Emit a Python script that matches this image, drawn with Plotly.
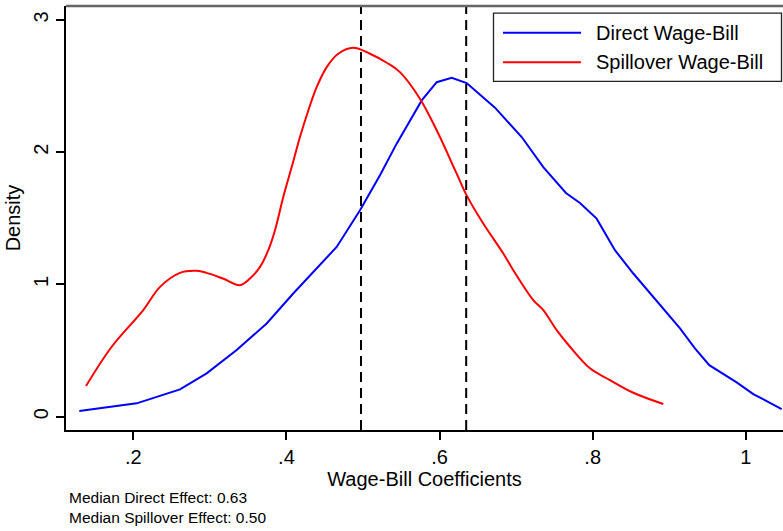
import plotly.graph_objects as go

# Kernel density estimates of the wage-bill coefficients
direct_x = [0.1295, 0.2044, 0.2610, 0.2958, 0.3350, 0.3742, 0.4089, 0.4656, 0.4961,
            0.5222, 0.5440, 0.5614, 0.5767, 0.5963, 0.6159, 0.6354, 0.6724, 0.7073,
            0.7355, 0.7651, 0.7834, 0.8052, 0.8291, 0.8531, 0.8792, 0.8966, 0.9141,
            0.9336, 0.9523, 0.9881, 1.0098, 1.0469]
direct_y = [0.043, 0.101, 0.207, 0.328, 0.504, 0.705, 0.932, 1.284, 1.561,
            1.826, 2.065, 2.241, 2.392, 2.530, 2.563, 2.523, 2.337, 2.115,
            1.888, 1.692, 1.616, 1.498, 1.259, 1.083, 0.906, 0.793, 0.668,
            0.517, 0.390, 0.260, 0.171, 0.058]

spill_x = [0.1382, 0.1718, 0.2130, 0.2349, 0.2610, 0.2828, 0.2958, 0.3170, 0.3393,
           0.3524, 0.3655, 0.3763, 0.3851, 0.3959, 0.4069, 0.4177, 0.4286, 0.4395,
           0.4526, 0.4677, 0.4873, 0.5091, 0.5310, 0.5483, 0.5744, 0.5963, 0.6224,
           0.6354, 0.6571, 0.6833, 0.6963, 0.7224, 0.7355, 0.7530, 0.7704, 0.7965,
           0.8226, 0.8531, 0.8923]
spill_y = [0.232, 0.529, 0.806, 0.982, 1.088, 1.103, 1.088, 1.045, 0.995,
           1.045, 1.133, 1.259, 1.410, 1.662, 1.888, 2.115, 2.316, 2.492,
           2.644, 2.745, 2.790, 2.745, 2.677, 2.606, 2.405, 2.166, 1.838,
           1.674, 1.461, 1.234, 1.108, 0.882, 0.806, 0.655, 0.529, 0.366,
           0.277, 0.181, 0.096]

series_names = ["Direct Wage-Bill", "Spillover Wage-Bill"]
series_colors = ["#0000ff", "#ff0000"]

median_direct = 0.6348
median_spill = 0.4974

x_tickvals = [0.2, 0.4, 0.6, 0.8, 1.0]
x_ticktext = [".2", ".4", ".6", ".8", "1"]
y_tickvals = [0, 1, 2, 3]
y_ticktext = ["0", "1", "2", "3"]

W, H = 783, 531
L, R, T, B = 66, 0, 5.5, 101
plot_w = W - L - R
plot_h = H - T - B


def px_x(p):
    return (p - L) / plot_w


def px_y(p):
    return (H - B - p) / plot_h


FONT = "Liberation Sans, Arial, Helvetica, sans-serif"
FS = 20

fig = go.Figure()
fig.add_trace(go.Scatter(x=direct_x, y=direct_y, mode="lines", name=series_names[0],
                         line=dict(color=series_colors[0], width=2), showlegend=False))
fig.add_trace(go.Scatter(x=spill_x, y=spill_y, mode="lines", name=series_names[1],
                         line=dict(color=series_colors[1], width=2, shape="spline",
                                   smoothing=1.0), showlegend=False))

shapes = []
# Median markers
for m in (median_spill, median_direct):
    shapes.append(dict(type="line", xref="x", yref="paper", x0=m, x1=m, y0=0, y1=1,
                       line=dict(color="black", width=2, dash="10px,6px")))
# Top frame edge of the plot region
shapes.append(dict(type="line", xref="paper", yref="paper", x0=0, x1=1, y0=1, y1=1,
                   line=dict(color="#666666", width=2.5)))

# Legend box
shapes.append(dict(type="rect", xref="paper", yref="paper",
                   x0=px_x(493.5), x1=px_x(781.5), y0=px_y(81), y1=px_y(12.7),
                   line=dict(color="#222222", width=1.3), fillcolor="white"))
annotations = []
for i, (name, col) in enumerate(zip(series_names, series_colors)):
    yy = [32.3, 61.7][i]
    shapes.append(dict(type="line", xref="paper", yref="paper",
                       x0=px_x(503), x1=px_x(581), y0=px_y(yy), y1=px_y(yy),
                       line=dict(color=col, width=2)))
    annotations.append(dict(text=name, xref="paper", yref="paper", x=px_x(594),
                            y=px_y(yy), xanchor="left", yanchor="middle", showarrow=False,
                            font=dict(family=FONT, size=FS, color="black")))

# Median notes below the axis
note = (f"Median Direct Effect: {median_direct:.2f}<br>"
        f"Median Spillover Effect: {median_spill:.2f}")
annotations.append(dict(
    text=note, xref="paper", yref="paper", x=px_x(68), y=px_y(488),
    xanchor="left", yanchor="top", align="left", showarrow=False, borderpad=0,
    font=dict(family=FONT, size=15.5, color="black")))

fig.update_layout(
    width=W, height=H,
    margin=dict(l=L, r=R, t=T, b=B, pad=0),
    paper_bgcolor="white", plot_bgcolor="white",
    font=dict(family=FONT, size=FS, color="black"),
    shapes=shapes, annotations=annotations,
    showlegend=False,
)
fig.update_xaxes(
    range=[0.1121, 1.0486], tickvals=x_tickvals, ticktext=x_ticktext,
    showgrid=False, zeroline=False, showline=True, linecolor="black", linewidth=2,
    ticks="outside", ticklen=8, tickwidth=1.5, tickcolor="black",
    tickfont=dict(size=FS),
    title=dict(text="Wage-Bill Coefficients", font=dict(size=FS), standoff=2),
)
fig.update_yaxes(
    range=[-0.1005, 3.106], tickvals=y_tickvals, ticktext=y_ticktext, tickangle=-90,
    showgrid=False, zeroline=False, showline=True, linecolor="black", linewidth=2,
    ticks="outside", ticklen=8, tickwidth=1.5, tickcolor="black",
    tickfont=dict(size=FS),
    title=dict(text="Density", font=dict(size=FS), standoff=4),
)

fig.write_html("out.html")
